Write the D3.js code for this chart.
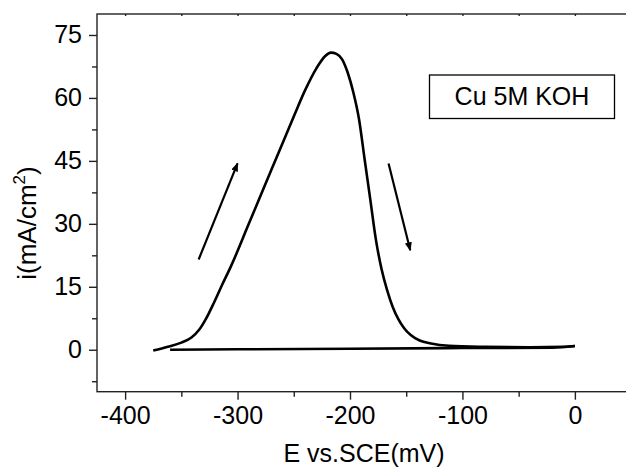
<!DOCTYPE html>
<html>
<head>
<meta charset="utf-8">
<script src="https://cdn.jsdelivr.net/npm/d3@7"></script>
<style>
  body { margin: 0; background: #fff; }
  text { font-family: "Liberation Sans", Arial, sans-serif; fill: #000; }
</style>
</head>
<body>
<div id="chart"></div>
<script>
// forward (anodic) scan, E in mV, i in mA/cm2
const fwdE = [-375, -362, -350, -341, -334, -328, -321, -314, -306, -290, -270, -250, -240, -230, -222, -217, -212, -207, -202, -197, -192, -187, -182, -177, -172, -167, -162, -157, -152, -146, -138, -128, -112, -80, -40, -10, 0];
const fwdI = [-0.2, 0.7, 1.7, 2.9, 4.8, 7.4, 11.2, 15.3, 19.8, 30, 42.8, 55.6, 61.8, 67, 70, 70.8, 70.5, 69.2, 66, 61.3, 55, 45.4, 35.9, 26.3, 19.3, 14.2, 10.2, 7.3, 5.2, 3.5, 2.2, 1.5, 0.95, 0.7, 0.6, 0.7, 0.9];
// return scan
const revE = [-360, -300, -200, -100, -20, 0];
const revI = [0, 0.1, 0.25, 0.4, 0.5, 0.9];
// scan direction arrows [E1, i1, E2, i2]
const arrows = [[-334.6, 21.5, -300, 44.4], [-165.7, 44.4, -146.4, 23.7]];

const xTicks = [-400, -300, -200, -100, 0];
const xMinor = [-350, -250, -150, -50];
const yTicks = [0, 15, 30, 45, 60, 75];
const yMinor = [-7.5, 7.5, 22.5, 37.5, 52.5, 67.5];
const legendText = "Cu 5M KOH";

const width = 626, height = 471;
const svg = d3.select('#chart').append('svg')
  .attr('width', width).attr('height', height);

const x = d3.scaleLinear().domain([-425, 50]).range([97, 631.1]);
const y = d3.scaleLinear().domain([-10, 80]).range([391.7, 14]);

// frame
svg.append('rect')
  .attr('x', x(-425)).attr('y', y(80))
  .attr('width', x(50) - x(-425)).attr('height', y(-10) - y(80))
  .attr('fill', 'none').attr('stroke', '#222').attr('stroke-width', 1.4);

function styleAxis(g) {
  g.select('.domain').remove();
  g.selectAll('line').attr('stroke', '#222').attr('stroke-width', 1.4);
  g.selectAll('text').style('font-size', '25px').attr('fill', '#000');
}

svg.append('g').attr('transform', `translate(0,${y(-10)})`)
  .call(d3.axisBottom(x).tickValues(xTicks).tickSize(8).tickPadding(7).tickFormat(d => String(d)))
  .call(styleAxis);
svg.append('g').attr('transform', `translate(0,${y(-10)})`)
  .call(d3.axisBottom(x).tickValues(xMinor).tickSize(5).tickFormat(''))
  .call(styleAxis);
svg.append('g').attr('transform', `translate(0,${y(80)})`)
  .call(d3.axisBottom(x).tickValues(xTicks.concat(xMinor)).tickSize(2).tickFormat(''))
  .call(styleAxis);

svg.append('g').attr('transform', `translate(${x(-425)},0)`)
  .call(d3.axisLeft(y).tickValues(yTicks).tickSize(8).tickPadding(7).tickFormat(d => String(d)))
  .call(styleAxis);
svg.append('g').attr('transform', `translate(${x(-425)},0)`)
  .call(d3.axisLeft(y).tickValues(yMinor).tickSize(5).tickFormat(''))
  .call(styleAxis);

// axis titles
svg.append('text')
  .attr('x', (x(-425) + x(50)) / 2).attr('y', 461.5)
  .attr('text-anchor', 'middle').style('font-size', '25px')
  .text('E vs.SCE(mV)');

const yl = svg.append('text')
  .attr('transform', 'translate(36,223) rotate(-90)')
  .attr('text-anchor', 'middle').style('font-size', '26px');
yl.append('tspan').text('i(mA/cm');
yl.append('tspan').attr('dy', -11).style('font-size', '17px').text('2');
yl.append('tspan').attr('dy', 11).text(')');

// curves
const line = d3.line().x(d => x(d[0])).y(d => y(d[1])).curve(d3.curveMonotoneX);
svg.append('path')
  .datum(fwdE.map((e, i) => [e, fwdI[i]]))
  .attr('d', line).attr('fill', 'none').attr('stroke', '#000').attr('stroke-width', 2.6);
svg.append('path')
  .datum(revE.map((e, i) => [e, revI[i]]))
  .attr('d', line).attr('fill', 'none').attr('stroke', '#000').attr('stroke-width', 2.6);

// arrows
svg.append('defs').append('marker')
  .attr('id', 'head').attr('viewBox', '0 0 10 10')
  .attr('refX', 9).attr('refY', 5)
  .attr('markerWidth', 4).attr('markerHeight', 4)
  .attr('orient', 'auto')
  .append('path').attr('d', 'M0,1 L10,5 L0,9 Z').attr('fill', '#000');

svg.selectAll('.arrow').data(arrows).enter().append('line')
  .attr('class', 'arrow')
  .attr('x1', d => x(d[0])).attr('y1', d => y(d[1]))
  .attr('x2', d => x(d[2])).attr('y2', d => y(d[3]))
  .attr('stroke', '#000').attr('stroke-width', 2.2)
  .attr('marker-end', 'url(#head)');

// legend box
const lg = svg.append('g');
lg.append('rect').attr('x', 429.5).attr('y', 75).attr('width', 185).attr('height', 43.5)
  .attr('fill', '#fff').attr('stroke', '#000').attr('stroke-width', 1.3);
lg.append('text').attr('x', 522).attr('y', 105).attr('text-anchor', 'middle')
  .style('font-size', '25px').text(legendText);
</script>
</body>
</html>
